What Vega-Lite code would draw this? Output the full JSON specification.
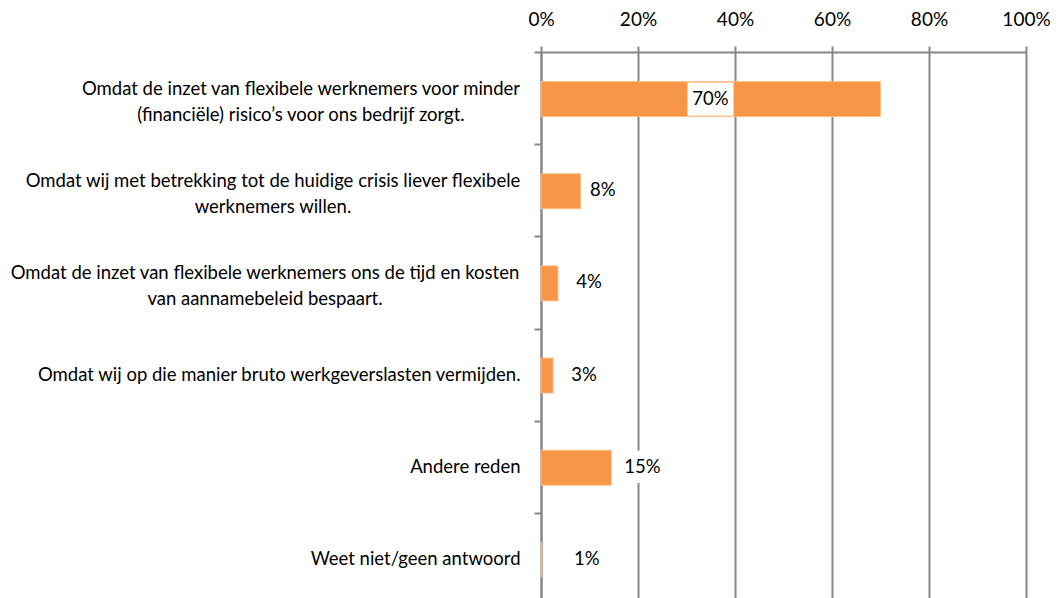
{
  "$schema": "https://vega.github.io/schema/vega-lite/v6.json",
  "width": 485,
  "height": 546,
  "autosize": {"type": "none"},
  "padding": {"left": 541, "top": 52, "right": 34, "bottom": 0},
  "background": "white",
  "config": {"view": {"stroke": null}, "font": "Lato", "text": {"font": "Lato"}},
  "data": {
    "values": [
      {"reason": "Omdat de inzet van flexibele werknemers voor minder|(financiële) risico’s voor ons bedrijf zorgt.", "value": 70, "label": "70%"},
      {"reason": "Omdat wij met betrekking tot de huidige crisis liever flexibele|werknemers willen.", "value": 8.2, "label": "8%"},
      {"reason": "Omdat de inzet van flexibele werknemers ons de tijd en kosten|van aannamebeleid bespaart.", "value": 3.5, "label": "4%"},
      {"reason": "Omdat wij op die manier bruto werkgeverslasten vermijden.", "value": 2.5, "label": "3%"},
      {"reason": "Andere reden", "value": 14.5, "label": "15%"},
      {"reason": "Weet niet/geen antwoord", "value": 0.15, "label": "1%"}
    ]
  },
  "encoding": {
    "y": {
      "field": "reason",
      "type": "nominal",
      "sort": null,
      "scale": {"range": [0, 553], "paddingInner": 0, "paddingOuter": 0},
      "axis": {
        "title": null,
        "orient": "left",
        "tickBand": "extent",
        "grid": false,
        "domainColor": "#878787",
        "domainWidth": 2,
        "tickColor": "#878787",
        "tickWidth": 2,
        "tickSize": 7,
        "labelPadding": 14,
        "labelAlign": "right",
        "labelFontSize": 18.5,
        "labelColor": "#000000",
        "labelLimit": 700,
        "labelExpr": "indexof(datum.label, '|') >= 0 ? '' : datum.label"
      }
    }
  },
  "layer": [
    {
      "mark": {"type": "bar", "color": "#F79646", "stroke": "#FAC08F", "strokeWidth": 1, "height": {"band": 0.38}, "yOffset": 1},
      "encoding": {
        "x": {
          "field": "value",
          "type": "quantitative",
          "scale": {"domain": [0, 100]},
          "axis": {
            "title": null,
            "orient": "top",
            "values": [0, 20, 40, 60, 80, 100],
            "labelExpr": "datum.value + '%'",
            "grid": true,
            "gridColor": "#878787",
            "gridWidth": 2,
            "domainColor": "#878787",
            "domainWidth": 2,
            "tickColor": "#878787",
            "tickWidth": 2,
            "tickSize": 6,
            "labelPadding": 17,
            "labelFontSize": 19,
            "labelColor": "#000000",
            "labelFlush": false
          }
        }
      }
    },
    {
      "transform": [{"filter": "datum.value > 50"}],
      "mark": {"type": "bar", "color": "white", "height": {"band": 0.36}, "yOffset": 1, "xOffset": -193, "x2Offset": -147},
      "encoding": {
        "x": {"field": "value", "type": "quantitative"},
        "x2": {"field": "value"}
      }
    },
    {
      "transform": [{"filter": "datum.label == '15%'"}],
      "mark": {"type": "bar", "color": "white", "height": {"band": 0.35}, "yOffset": 0, "xOffset": 10, "x2Offset": 50},
      "encoding": {
        "x": {"field": "value", "type": "quantitative"},
        "x2": {"field": "value"}
      }
    },
    {
      "transform": [{"filter": "datum.value > 50"}],
      "mark": {"type": "text", "align": "center", "baseline": "middle", "dx": -170, "dy": 1, "fontSize": 18.5, "color": "#000000"},
      "encoding": {
        "x": {"field": "value", "type": "quantitative"},
        "text": {"field": "label"}
      }
    },
    {
      "transform": [{"filter": "datum.label == '8%'"}],
      "mark": {"type": "text", "align": "center", "baseline": "middle", "dx": 22, "fontSize": 18.5, "color": "#000000"},
      "encoding": {
        "x": {"field": "value", "type": "quantitative"},
        "text": {"field": "label"}
      }
    },
    {
      "transform": [{"filter": "datum.label == '4%' || datum.label == '3%' || datum.label == '15%'"}],
      "mark": {"type": "text", "align": "center", "baseline": "middle", "dx": 31, "fontSize": 18.5, "color": "#000000"},
      "encoding": {
        "x": {"field": "value", "type": "quantitative"},
        "text": {"field": "label"}
      }
    },
    {
      "transform": [{"filter": "datum.label == '1%'"}],
      "mark": {"type": "text", "align": "center", "baseline": "middle", "dx": 45, "fontSize": 18.5, "color": "#000000"},
      "encoding": {
        "x": {"field": "value", "type": "quantitative"},
        "text": {"field": "label"}
      }
    },
    {
      "transform": [{"filter": "indexof(datum.reason, 'minder') >= 0"}],
      "mark": {"type": "text", "align": "center", "baseline": "middle", "lineBreak": "|", "lineHeight": 26, "dx": -240, "dy": -9, "fontSize": 18.5, "color": "#000000"},
      "encoding": {
        "x": {"datum": 0, "type": "quantitative"},
        "text": {"field": "reason"}
      }
    },
    {
      "transform": [{"filter": "indexof(datum.reason, 'crisis') >= 0"}],
      "mark": {"type": "text", "align": "center", "baseline": "middle", "lineBreak": "|", "lineHeight": 26, "dx": -268, "dy": -9, "fontSize": 18.5, "color": "#000000"},
      "encoding": {
        "x": {"datum": 0, "type": "quantitative"},
        "text": {"field": "reason"}
      }
    },
    {
      "transform": [{"filter": "indexof(datum.reason, 'kosten') >= 0"}],
      "mark": {"type": "text", "align": "center", "baseline": "middle", "lineBreak": "|", "lineHeight": 26, "dx": -276, "dy": -9, "fontSize": 18.5, "color": "#000000"},
      "encoding": {
        "x": {"datum": 0, "type": "quantitative"},
        "text": {"field": "reason"}
      }
    }
  ]
}
